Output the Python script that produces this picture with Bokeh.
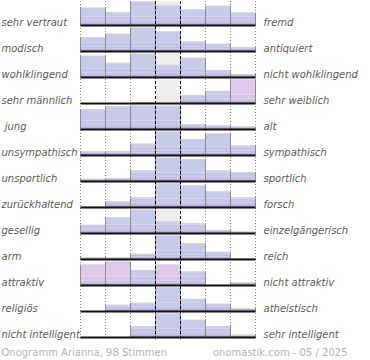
import numpy as np
from bokeh.plotting import figure
from bokeh.models import Range1d
from bokeh.core.properties import value
from bokeh.embed import file_html
from bokeh.resources import INLINE

# ---------------- data ----------------
left_labels = ["sehr vertraut", "modisch", "wohlklingend", "sehr männlich", "\u00a0jung",
               "unsympathisch", "unsportlich", "zurückhaltend", "gesellig", "arm",
               "attraktiv", "religiös", "nicht intelligent"]
right_labels = ["fremd", "antiquiert", "nicht wohlklingend", "sehr weiblich", "alt",
                "sympathisch", "sportlich", "forsch", "einzelgängerisch", "reich",
                "nicht attraktiv", "atheistisch", "sehr intelligent"]
footer_left = "Onogramm Arianna, 98 Stimmen"
footer_right = "onomastik.com - 05 / 2025"

# relative bar heights per row (percent of the row's largest bin), 7 bins each
r01 = [74, 55, 100, 83, 68, 82, 54]
r02 = [60, 74, 100, 83, 43, 32, 18]
r03 = [91, 61, 100, 53, 82, 30, 15]
r04 = [0, 0, 5, 0, 35, 53, 100]
r05 = [84, 98, 100, 99, 21, 17, 12]
r06 = [17, 18, 49, 100, 69, 93, 44]
r07 = [11, 15, 46, 100, 94, 46, 39]
r08 = [4, 26, 43, 100, 92, 67, 43]
r09 = [36, 68, 100, 50, 43, 15, 8]
r10 = [10, 10, 24, 100, 68, 32, 6]
r11 = [87, 100, 65, 87, 58, 0, 14]
r12 = [0, 28, 36, 100, 53, 32, 14]
r13 = [0, 0, 47, 100, 74, 47, 11]
rows = [r01, r02, r03, r04, r05, r06, r07, r08, r09, r10, r11, r12, r13]

# bins drawn in pink
pink_bins = [(3, 6), (10, 0), (10, 1), (10, 3)]
# rows whose middle bin background is shaded
mid_shaded = [0, 2, 3, 8]

# ---------------- layout ----------------
W, H = 370, 360
X0_PX, COL_PX = 80, 25
ROW_PX = 26
MAX_PX = 24
NCOL = 7
NROW = len(rows)
px = 1.0 / ROW_PX  # one pixel in y units

p = figure(width=W, height=H, output_backend="svg", toolbar_location=None,
           x_range=Range1d(-X0_PX / COL_PX, (W - X0_PX) / COL_PX),
           y_range=Range1d((H + 1) / ROW_PX, 1 / ROW_PX),
           x_axis_location=None, y_axis_location=None,
           min_border=0, min_border_left=0, min_border_right=0,
           min_border_top=0, min_border_bottom=0)
p.grid.visible = False
p.outline_line_color = None
p.background_fill_color = "white"

vals = np.array(rows, dtype=float)
heights_px = vals / 100.0 * MAX_PX
base = np.arange(1, NROW + 1, dtype=float)

# middle column shading
sh = np.array(mid_shaded)
p.quad(left=[3] * len(sh), right=[4] * len(sh), top=base[sh] - 1 + 2 * px,
       bottom=base[sh], fill_color="#eeeeee", line_color=None)

# dotted grid lines
gx = [0, 1, 2, 5, 6, 7]
y_top = 0.5 * px + 1 / ROW_PX
y_bot = NROW + 2 * px
p.segment(x0=gx, x1=gx, y0=[y_top] * len(gx), y1=[y_bot] * len(gx),
          line_color="#888888", line_width=1, line_dash="1 2")

# bars with a vertical colour ramp (bands measured from the baseline)
bands = [0, 1.5, 3, 5, 9, 26]
blue = ["#ab9fd0", "#b5b0da", "#bdbde2", "#c3c6e7", "#c6cbea"]
pinkc = ["#ab9fd0", "#bcb1da", "#ccbde2", "#d7c4e5", "#dfc9e8"]
pink_set = set(pink_bins)
L, R, T, B, C = [], [], [], [], []
for r in range(NROW):
    for c in range(NCOL):
        h = heights_px[r, c]
        cols = pinkc if (r, c) in pink_set else blue
        for k in range(len(bands) - 1):
            lo, hi = bands[k], min(bands[k + 1], h)
            if hi > lo:
                L.append(c); R.append(c + 1)
                B.append(base[r] - lo * px); T.append(base[r] - hi * px)
                C.append(cols[k])
p.quad(left=L, right=R, top=T, bottom=B, fill_color=C, line_color=None)

# bar edges
ex0, ex1, ey0, ey1 = [], [], [], []
tx0, tx1, ty = [], [], []
for r in range(NROW):
    for c in range(NCOL):
        h = heights_px[r, c]
        if h <= 0:
            continue
        top = base[r] - h * px
        for xe in (c, c + 1):
            ex0.append(xe); ex1.append(xe); ey0.append(base[r]); ey1.append(top)
        tx0.append(c); tx1.append(c + 1); ty.append(top + 0.5 * px)
p.segment(x0=tx0, x1=tx1, y0=ty, y1=ty, line_color="#d4d4d4", line_width=1)
p.segment(x0=ex0, x1=ex1, y0=ey0, y1=ey1, line_color="#8c8c8c", line_width=1)

# baselines
p.segment(x0=[0] * NROW, x1=[NCOL] * NROW, y0=base, y1=base,
          line_color="#111111", line_width=2)

# dashed middle lines
dx = [3, 4]
p.segment(x0=dx, x1=dx, y0=[y_top] * 2, y1=[y_bot] * 2,
          line_color="black", line_width=1, line_dash="3 2")

# labels
lab_y = base - 3.5 * px
p.text(x=[-(X0_PX - 1) / COL_PX] * NROW, y=lab_y, text=left_labels,
       text_font=value("DejaVu Sans"), text_font_style="italic",
       text_font_size="10px", text_color="#5a5a5a",
       text_baseline="alphabetic", text_align="left")
p.text(x=[(263 - X0_PX) / COL_PX] * NROW, y=lab_y, text=right_labels,
       text_font=value("DejaVu Sans"), text_font_style="italic",
       text_font_size="10px", text_color="#5a5a5a",
       text_baseline="alphabetic", text_align="left")

fy = (352 + 1) / ROW_PX
p.text(x=[-(X0_PX - 1) / COL_PX], y=[fy], text=[footer_left],
       text_font=value("DejaVu Sans"), text_font_size="10px",
       text_color="#b4b4b4", text_baseline="alphabetic", text_align="left")
p.text(x=[(347 - X0_PX) / COL_PX], y=[fy], text=[footer_right],
       text_font=value("DejaVu Sans"), text_font_size="10px",
       text_color="#b4b4b4", text_baseline="alphabetic", text_align="right")

open("out.html", "w").write(file_html(p, INLINE))
